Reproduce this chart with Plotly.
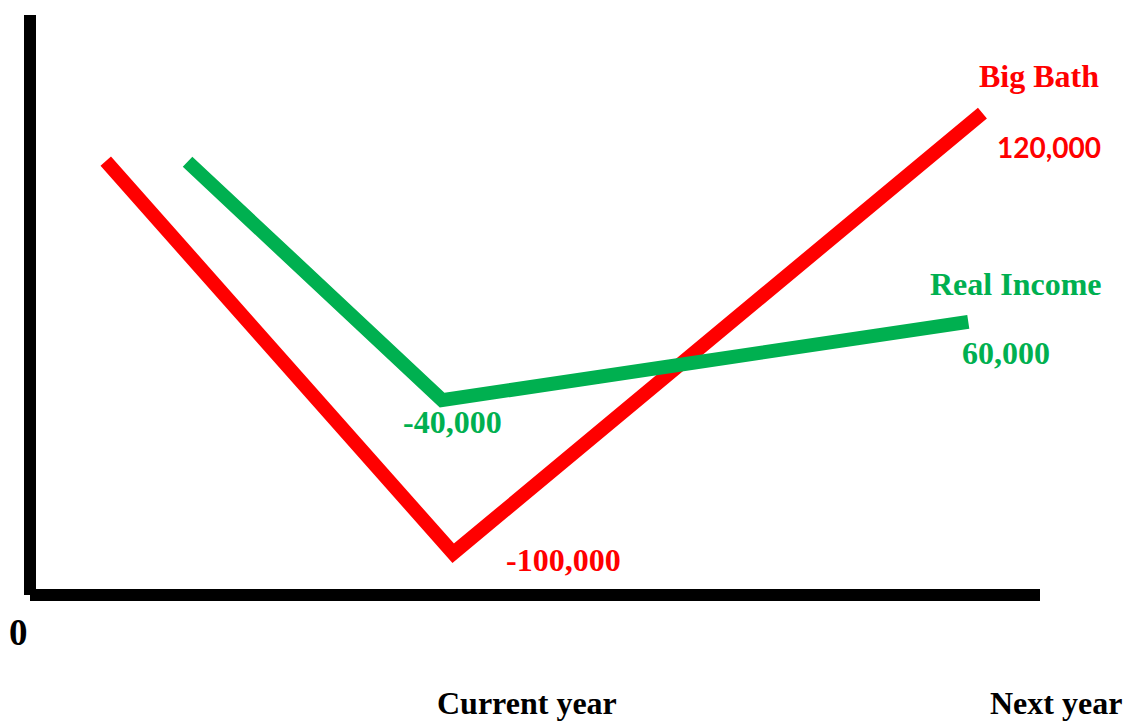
import plotly.graph_objects as go

# Schematic positions (arbitrary units: x = time progression 0-100, y = income level 0-100)
big_bath_x = [7.5, 41.9, 94.3]
big_bath_y = [74.8, 7.2, 83.1]
real_income_x = [15.6, 40.8, 92.9]
real_income_y = [74.7, 33.6, 47.1]

big_bath_labels = ["", "-100,000", "120,000"]
real_income_labels = ["", "-40,000", "60,000"]
series_names = ["Big Bath", "Real Income"]
axis_labels = ["0", "Current year", "Next year"]

RED = "#FF0000"
GREEN = "#00B050"
SERIF = "Liberation Serif, Times New Roman, serif"
SANS = "Lato, Liberation Sans, sans-serif"

fig = go.Figure()
fig.add_trace(go.Scatter(x=big_bath_x, y=big_bath_y, mode="lines",
                         line=dict(color=RED, width=14), name=series_names[0],
                         hoverinfo="skip", cliponaxis=False))
fig.add_trace(go.Scatter(x=real_income_x, y=real_income_y, mode="lines",
                         line=dict(color=GREEN, width=14), name=series_names[1],
                         hoverinfo="skip", cliponaxis=False))

# axis lines
fig.add_shape(type="line", xref="paper", yref="paper", x0=0, x1=0, y0=0, y1=1,
              line=dict(color="black", width=12))
fig.add_shape(type="line", xref="paper", yref="paper", x0=0, x1=1, y0=0, y1=0,
              line=dict(color="black", width=12))

ann = []
# value labels anchored to data points
ann.append(dict(x=big_bath_x[1], y=big_bath_y[1], text=big_bath_labels[1], xshift=110, yshift=-7,
                font=dict(family=SERIF, size=32, color=RED)))
ann.append(dict(x=big_bath_x[2], y=big_bath_y[2], text=big_bath_labels[2], xshift=67, yshift=-34,
                font=dict(family=SANS, size=28, color=RED)))
ann.append(dict(x=big_bath_x[2], y=big_bath_y[2], text=series_names[0], xshift=57, yshift=37,
                font=dict(family=SERIF, size=32, color=RED)))
ann.append(dict(x=real_income_x[1], y=real_income_y[1], text=real_income_labels[1], xshift=10, yshift=-22,
                font=dict(family=SERIF, size=32, color=GREEN)))
ann.append(dict(x=real_income_x[2], y=real_income_y[2], text=real_income_labels[2], xshift=38, yshift=-31,
                font=dict(family=SERIF, size=32, color=GREEN)))
ann.append(dict(x=real_income_x[2], y=real_income_y[2], text=series_names[1], xshift=48, yshift=38,
                font=dict(family=SERIF, size=32, color=GREEN)))
for a in ann:
    a.update(xref="x", yref="y")

# axis labels (outside the plotting area)
ann.append(dict(x=-0.011, y=-0.0655, xref="paper", yref="paper", text=axis_labels[0],
                font=dict(family=SERIF, size=37, color="black")))
ann.append(dict(x=0.492, y=-0.1862, xref="paper", yref="paper", text=axis_labels[1],
                font=dict(family=SERIF, size=32, color="black")))
ann.append(dict(x=1.016, y=-0.1862, xref="paper", yref="paper", text=axis_labels[2],
                font=dict(family=SERIF, size=32, color="black")))

for a in ann:
    a.update(showarrow=False, xanchor="center", yanchor="middle")
    a["text"] = "<b>" + a["text"] + "</b>"

fig.update_layout(
    width=1133, height=722,
    margin=dict(l=30, r=93, t=15, b=127),
    paper_bgcolor="white", plot_bgcolor="white",
    showlegend=False,
    xaxis=dict(range=[0, 100], visible=False, fixedrange=True),
    yaxis=dict(range=[0, 100], visible=False, fixedrange=True),
    annotations=ann,
)
fig.write_html("out.html", config={"displayModeBar": False})
